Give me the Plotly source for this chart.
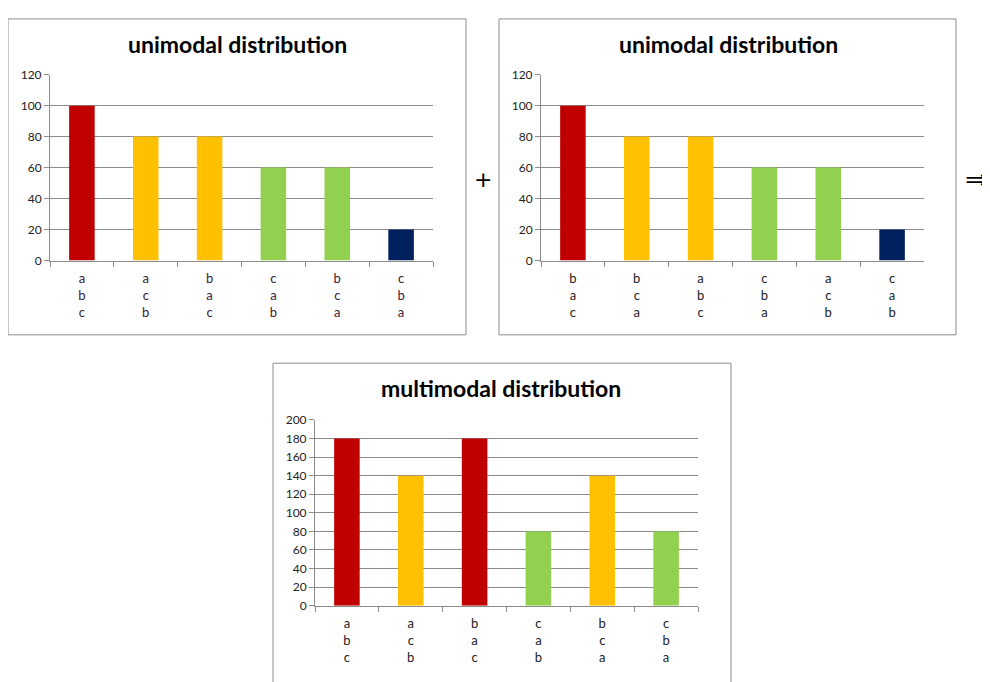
import plotly.graph_objects as go

W, H = 990, 682
OFF = 8  # page offset of the figure in the browser (body margin)

# ---- data ----
cats_left = ["a<br>b<br>c", "a<br>c<br>b", "b<br>a<br>c", "c<br>a<br>b", "b<br>c<br>a", "c<br>b<br>a"]
vals_left = [100, 80, 80, 60, 60, 20]
cats_right = ["b<br>a<br>c", "b<br>c<br>a", "a<br>b<br>c", "c<br>b<br>a", "a<br>c<br>b", "c<br>a<br>b"]
vals_right = [100, 80, 80, 60, 60, 20]
cats_multi = ["a<br>b<br>c", "a<br>c<br>b", "b<br>a<br>c", "c<br>a<br>b", "b<br>c<br>a", "c<br>b<br>a"]
vals_multi = [180, 140, 180, 80, 140, 80]

RED, YEL, GRN, NAVY = "#C00000", "#FFC000", "#92D050", "#002060"
colors_uni = [RED, YEL, YEL, GRN, GRN, NAVY]
colors_multi = [RED, YEL, RED, GRN, YEL, GRN]

FONT = "Lato"
GRID = "#8C8C8C"

def px(x):
    return (x - OFF) / W

def py(y):
    return 1 - (y - OFF) / H

fig = go.Figure()
fig.add_trace(go.Bar(x=cats_left, y=vals_left, marker=dict(color=colors_uni, line_width=0),
                     xaxis="x", yaxis="y", showlegend=False))
fig.add_trace(go.Bar(x=cats_right, y=vals_right, marker=dict(color=colors_uni, line_width=0),
                     xaxis="x2", yaxis="y2", showlegend=False))
fig.add_trace(go.Bar(x=cats_multi, y=vals_multi, marker=dict(color=colors_multi, line_width=0),
                     xaxis="x3", yaxis="y3", showlegend=False))

def xax(dom, anchor, tickcolor):
    return dict(domain=dom, anchor=anchor, type="category", showgrid=False,
                showline=True, linecolor=GRID, linewidth=1,
                ticks="outside", tickson="boundaries", ticklen=5, tickcolor=GRID,
                tickfont=dict(family=FONT, size=13, color=tickcolor),
                ticklabelstandoff=6, fixedrange=True)

def yax(dom, anchor, rng):
    return dict(domain=dom, anchor=anchor, range=rng, dtick=20, showgrid=True,
                gridcolor=GRID, gridwidth=1, showline=True, linecolor=GRID, linewidth=1,
                ticks="outside", ticklen=5, tickcolor=GRID, zeroline=False,
                tickfont=dict(family=FONT, size=12, color="#222222"), fixedrange=True)

fig.update_layout(
    width=W, height=H,
    margin=dict(l=0, r=0, t=0, b=0),
    paper_bgcolor="white", plot_bgcolor="white",
    bargap=0.6,
    xaxis=xax([px(50), px(433)], "y", "#3A1A35"),
    yaxis=yax([py(258), py(68)], "x", [0, 120]),
    xaxis2=xax([px(541), px(924)], "y2", "#222222"),
    yaxis2=yax([py(258), py(68)], "x2", [0, 120]),
    xaxis3=xax([px(315), px(698)], "y3", "#222222"),
    yaxis3=yax([py(611), py(421)], "x3", [0, 200]),
)

# chart borders
for (x0, y0, x1, y1) in [(8, 11, 466, 334), (499, 11, 956, 334), (273, 363, 731, 700)]:
    fig.add_shape(type="rect", xref="paper", yref="paper",
                  x0=px(x0), y0=py(y0), x1=px(x1), y1=py(y1),
                  line=dict(color="#8C8C8C", width=1), fillcolor="rgba(0,0,0,0)", layer="below")

# titles
for text, cx, cy in [("unimodal distribution", 237, 37), ("unimodal distribution", 728, 37),
                     ("multimodal distribution", 501, 388)]:
    fig.add_annotation(text="<b>%s</b>" % text, xref="paper", yref="paper",
                       x=px(cx), y=py(cy), showarrow=False, xanchor="center", yanchor="middle",
                       font=dict(family=FONT, size=23, color="black"))

# operators
fig.add_annotation(text="+", xref="paper", yref="paper", x=px(483), y=py(175), showarrow=False,
                   xanchor="center", yanchor="middle", font=dict(family="DejaVu Sans", size=22, color="black"))
fig.add_annotation(text="⇒", xref="paper", yref="paper", x=px(977), y=py(175), showarrow=False,
                   xanchor="center", yanchor="middle", borderpad=0,
                   font=dict(family="DejaVu Sans", size=29, color="black"))

fig.write_html("out.html")
